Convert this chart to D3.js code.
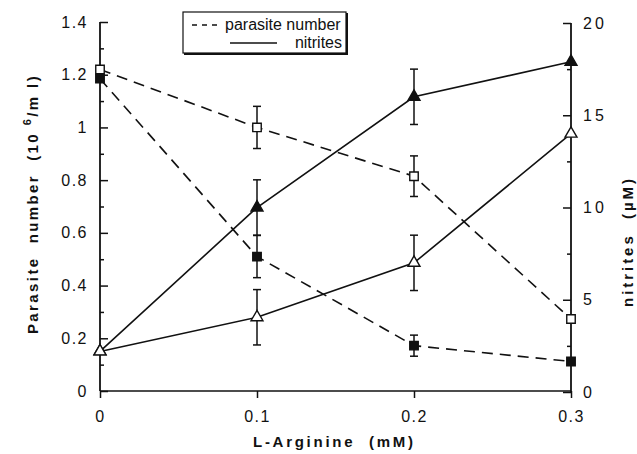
<!DOCTYPE html>
<html>
<head>
<meta charset="utf-8">
<script src="https://cdn.jsdelivr.net/npm/d3@7"></script>
<style>
  body { margin: 0; background: #fff; }
  svg { display: block; font-family: "Liberation Sans", Arial, sans-serif; }
  text { fill: #111; }
</style>
</head>
<body>
<div id="chart"></div>
<script>
// L-Arginine dose (mM)
const doses = [0, 0.1, 0.2, 0.3];
const doseLabels = ["0", "0.1", "0.2", "0.3"];

// parasite number (10^6/ml), left axis
const parasiteOpen = [1.22, 1.0, 0.815, 0.273];
const parasiteOpenErr = [0, 0.08, 0.077, 0];
const parasiteFilled = [1.185, 0.51, 0.172, 0.112];
const parasiteFilledErr = [0, 0.08, 0.04, 0];

// nitrites (µM), right axis
const nitriteFilled = [2.2, 10.0, 16.0, 17.9];
const nitriteFilledErr = [0, 1.5, 1.5, 0];
const nitriteOpen = [2.2, 4.05, 7.0, 14.0];
const nitriteOpenErr = [0, 1.5, 1.5, 0];

const leftTicks = [0, 0.2, 0.4, 0.6, 0.8, 1, 1.2, 1.4];
const leftTickLabels = ["0", "0.2", "0.4", "0.6", "0.8", "1", "1.2", "1.4"];
const leftMinor = [0.1, 0.3, 0.5, 0.7, 0.9, 1.1, 1.3];
const rightTicks = [0, 5, 10, 15, 20];
const rightTickLabels = ["0", "5", "10", "15", "20"];
const rightMinor = [2.5, 7.5, 12.5, 17.5];

const width = 637, height = 454;

const svg = d3.select("#chart").append("svg")
  .attr("width", width)
  .attr("height", height);

const x = d3.scaleLinear().domain([0, 0.3]).range([100, 571]);
const yL = d3.scaleLinear().domain([0, 1.4]).range([391, 22]);
const yR = d3.scaleLinear().domain([0, 20]).range([392, 23]);

// axes
const styleAxis = g => {
  g.select(".domain").remove();
  g.selectAll("line").attr("stroke", "#111").attr("stroke-width", 1.5);
  g.selectAll("text")
    .style("font-size", "16px")
    .style("letter-spacing", "1.5px")
    .attr("fill", "#111");
};

svg.append("g")
  .attr("transform", "translate(100,0)")
  .call(d3.axisLeft(yL).tickValues(leftMinor).tickSize(-4).tickFormat(""))
  .call(styleAxis);

svg.append("g")
  .attr("transform", "translate(100,0)")
  .call(d3.axisLeft(yL).tickValues(leftTicks).tickSize(-8).tickPadding(12)
    .tickFormat((d, i) => leftTickLabels[i]))
  .call(styleAxis);

svg.append("g")
  .attr("transform", "translate(571,0)")
  .call(d3.axisRight(yR).tickValues(rightMinor).tickSize(-4).tickFormat(""))
  .call(styleAxis);

svg.append("g")
  .attr("transform", "translate(571,0)")
  .call(d3.axisRight(yR).tickValues(rightTicks).tickSize(-8).tickPadding(12)
    .tickFormat((d, i) => rightTickLabels[i]))
  .call(styleAxis)
  .selectAll("text").style("letter-spacing", "3px");

svg.append("g")
  .attr("transform", "translate(0,391)")
  .call(d3.axisBottom(x).tickValues(doses).tickSize(7).tickPadding(13)
    .tickFormat((d, i) => doseLabels[i]))
  .call(styleAxis);

// axis lines
svg.append("line")
  .attr("x1", 100).attr("x2", 100).attr("y1", yL(1.4)).attr("y2", yL(0))
  .attr("stroke", "#111").attr("stroke-width", 1.8);
svg.append("line")
  .attr("x1", 571).attr("x2", 571).attr("y1", yR(20)).attr("y2", yR(0))
  .attr("stroke", "#111").attr("stroke-width", 1.8);
svg.append("line")
  .attr("x1", x(0)).attr("x2", x(0.3)).attr("y1", 391).attr("y2", 391)
  .attr("stroke", "#111").attr("stroke-width", 1.5);

// series
const series = [
  { vals: parasiteOpen, err: parasiteOpenErr, y: yL, dash: "11,7", shape: "square", fill: "#fff" },
  { vals: parasiteFilled, err: parasiteFilledErr, y: yL, dash: "11,7", shape: "square", fill: "#111" },
  { vals: nitriteFilled, err: nitriteFilledErr, y: yR, dash: null, shape: "triangle", fill: "#111" },
  { vals: nitriteOpen, err: nitriteOpenErr, y: yR, dash: null, shape: "triangle", fill: "#fff" }
];

series.forEach(s => {
  const pts = doses.map((d, i) => ({ d, v: s.vals[i], e: s.err[i] }));
  svg.append("path")
    .datum(pts)
    .attr("fill", "none")
    .attr("stroke", "#111")
    .attr("stroke-width", 1.6)
    .attr("stroke-dasharray", s.dash)
    .attr("d", d3.line().x(p => x(p.d)).y(p => s.y(p.v)));

  const eb = svg.append("g").attr("stroke", "#111").attr("stroke-width", 1.5);
  pts.filter(p => p.e > 0).forEach(p => {
    const cx = x(p.d);
    eb.append("line").attr("x1", cx).attr("x2", cx)
      .attr("y1", s.y(p.v - p.e)).attr("y2", s.y(p.v + p.e));
    [p.v - p.e, p.v + p.e].forEach(v => {
      eb.append("line").attr("x1", cx - 4).attr("x2", cx + 4)
        .attr("y1", s.y(v)).attr("y2", s.y(v));
    });
  });

  const sym = d3.symbol()
    .type(s.shape === "square" ? d3.symbolSquare : d3.symbolTriangle)
    .size(s.shape === "square" ? 72 : 62);
  svg.append("g").selectAll("path")
    .data(pts)
    .join("path")
    .attr("transform", p => `translate(${x(p.d)},${s.y(p.v)})`)
    .attr("d", sym)
    .attr("fill", s.fill)
    .attr("stroke", "#111")
    .attr("stroke-width", 1.4);
});

// legend
const legend = svg.append("g");
legend.append("rect")
  .attr("x", 183).attr("y", 12).attr("width", 163).attr("height", 41)
  .attr("fill", "#fff").attr("stroke", "#111").attr("stroke-width", 1.2);
legend.append("polyline")
  .attr("points", "184,54 347,54 347,13")
  .attr("fill", "none").attr("stroke", "#111").attr("stroke-width", 2);
legend.append("line")
  .attr("x1", 192).attr("x2", 221).attr("y1", 25).attr("y2", 25)
  .attr("stroke", "#111").attr("stroke-width", 1.4).attr("stroke-dasharray", "5,5");
legend.append("text")
  .attr("x", 225).attr("y", 30)
  .style("font-size", "16px")
  .text("parasite number");
legend.append("line")
  .attr("x1", 230).attr("x2", 277).attr("y1", 43).attr("y2", 43)
  .attr("stroke", "#111").attr("stroke-width", 1.6);
legend.append("text")
  .attr("x", 342).attr("y", 48)
  .attr("text-anchor", "end")
  .style("font-size", "16px")
  .text("nitrites");

// titles
svg.append("text")
  .attr("x", 333).attr("y", 447)
  .attr("text-anchor", "middle")
  .attr("textLength", 160)
  .attr("lengthAdjust", "spacing")
  .style("font-size", "15px").style("font-weight", "bold")
  .style("white-space", "pre")
  .text("L-Arginine  (mM)");

const lt = svg.append("text")
  .attr("transform", "translate(38,204) rotate(-90)")
  .attr("text-anchor", "middle")
  .style("font-size", "15px").style("font-weight", "bold")
  .style("letter-spacing", "2.4px")
  .style("white-space", "pre");
lt.append("tspan").text("Parasite  number  (10 ");
lt.append("tspan").attr("dy", -7).style("font-size", "11px").text("6");
lt.append("tspan").attr("dy", 7).text("/m l)");

svg.append("text")
  .attr("transform", "translate(633,243) rotate(-90)")
  .attr("text-anchor", "middle")
  .attr("textLength", 128)
  .attr("lengthAdjust", "spacing")
  .style("font-size", "15px").style("font-weight", "bold")
  .style("white-space", "pre")
  .text("nitrites  (µM)");
</script>
</body>
</html>
